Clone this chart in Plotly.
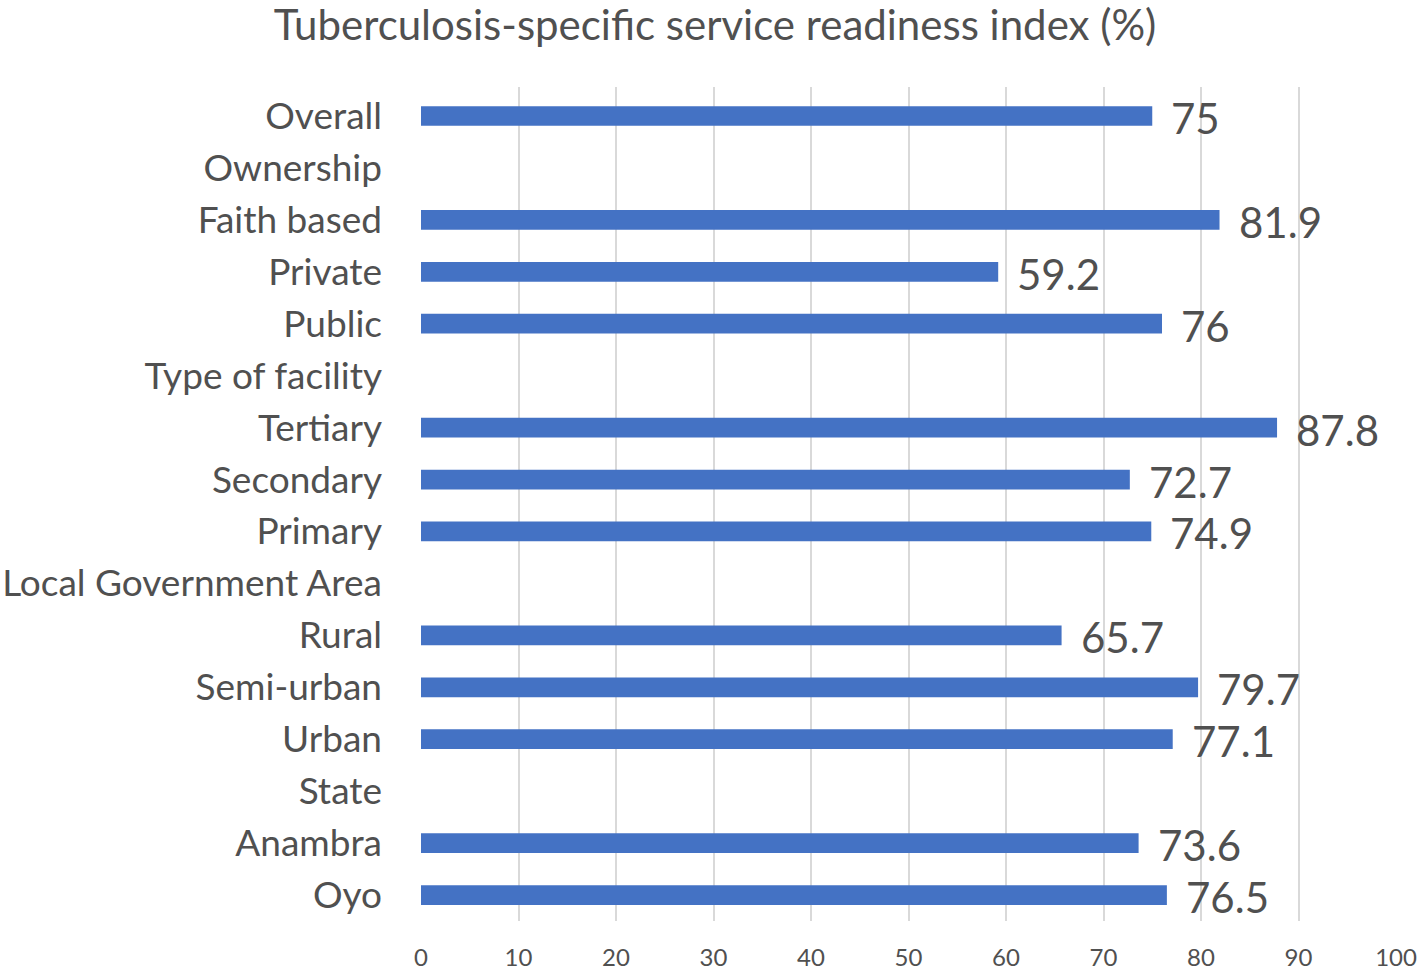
import plotly.graph_objects as go

categories = ["Overall", "Ownership", "Faith based", "Private", "Public",
              "Type of facility", "Tertiary", "Secondary", "Primary",
              "Local Government Area", "Rural", "Semi-urban", "Urban",
              "State", "Anambra", "Oyo"]
values = [75, None, 81.9, 59.2, 76, None, 87.8, 72.7, 74.9,
          None, 65.7, 79.7, 77.1, None, 73.6, 76.5]
x_ticks = [0, 10, 20, 30, 40, 50, 60, 70, 80, 90, 100]

FONT = "Lato, 'Open Sans', sans-serif"
TXT = "#505050"

fig = go.Figure()
fig.add_trace(go.Bar(
    y=categories, x=values, orientation="h",
    marker=dict(color="#4472C4", line=dict(width=0)),
    width=0.38, hoverinfo="x+y",
))

for c, v in zip(categories, values):
    if v is None:
        continue
    fig.add_annotation(x=v, y=c, text=f"{v:g}", showarrow=False,
                       xanchor="left", yanchor="middle", xshift=17, yshift=-2,
                       font=dict(family=FONT, size=42, color=TXT))

fig.update_layout(
    width=1418, height=970,
    margin=dict(l=421, r=22, t=87, b=49, autoexpand=False),
    paper_bgcolor="white", plot_bgcolor="white",
    showlegend=False,
    title=dict(text="Tuberculosis-specific service readiness index (%)",
               x=715 / 1418, xanchor="center", y=1 - 25 / 970, yanchor="middle",
               font=dict(family=FONT, size=42, color=TXT)),
    font=dict(family=FONT, color=TXT),
)
fig.update_xaxes(range=[0, 100], tickvals=x_ticks, showgrid=True,
                 gridcolor="#d9d9d9", gridwidth=2, zeroline=False,
                 showline=False, ticks="", ticklabelstandoff=20,
                 automargin=False,
                 tickfont=dict(family=FONT, size=24, color=TXT), fixedrange=True)
fig.update_yaxes(categoryorder="array", categoryarray=categories,
                 autorange="reversed", showgrid=False, zeroline=False,
                 showline=False, ticks="", ticklabelstandoff=38,
                 automargin=False,
                 tickfont=dict(family=FONT, size=37, color=TXT), fixedrange=True)

fig.write_html("out.html",
               config={"displayModeBar": False},
               post_script="document.body.style.margin='0';"
                           "document.body.style.overflow='hidden';")
